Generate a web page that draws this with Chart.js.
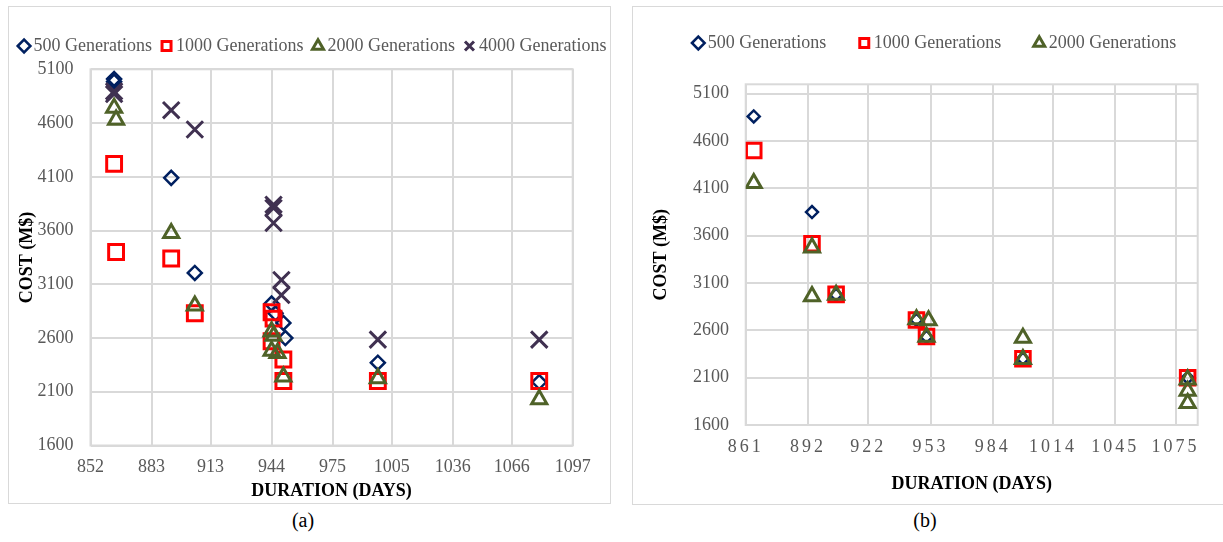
<!DOCTYPE html>
<html>
<head>
<meta charset="utf-8">
<script src="https://cdn.jsdelivr.net/npm/chart.js@4.4.1/dist/chart.umd.min.js"></script>
<style>
  body { margin: 0; background: #fff; width: 1223px; height: 542px; overflow: hidden; position: relative; font-family: "Liberation Serif", serif; }
  .panel { position: absolute; top: 6px; border: 1px solid #d9d9d9; overflow: hidden; background: #fff; }
  #panelA { left: 8px; width: 601px; height: 496px; }
  #panelB { left: 632px; width: 592px; height: 497px; }
  #panelA canvas { position: absolute; left: 0; top: 0; }
  #panelB canvas { position: absolute; left: 0; top: -12px; }
  .caption { position: absolute; top: 509px; width: 60px; font-size: 20px; color: #000; text-align: center; }
</style>
</head>
<body>
<div class="panel" id="panelA"><canvas id="chartA" width="612" height="496"></canvas></div>
<div class="panel" id="panelB"><canvas id="chartB" width="590" height="509"></canvas></div>
<div class="caption" style="left:273px">(a)</div>
<div class="caption" style="left:895px">(b)</div>
<script>
// chart (a): duration / cost for each number of generations
const durA500 = [864, 864, 893, 905, 944, 946, 950, 951, 998, 1080];
const costA500 = [5010, 4985, 4090, 3205, 2920, 2830, 2740, 2600, 2370, 2190];
const durA1000 = [864, 865, 893, 905, 944, 945, 944, 950, 950, 998, 1080];
const costA1000 = [4220, 3400, 3340, 2830, 2840, 2780, 2570, 2400, 2200, 2200, 2200];
const durA2000 = [864, 865, 893, 905, 944, 945, 944, 947, 950, 998, 1080];
const costA2000 = [4740, 4630, 3575, 2900, 2660, 2620, 2480, 2460, 2240, 2225, 2030];
const durA4000 = [864, 864, 893, 905, 945, 945, 945, 949, 949, 998, 1080];
const costA4000 = [4895, 4870, 4720, 4540, 3840, 3810, 3670, 3140, 3000, 2585, 2585];

// chart (b)
const durB500 = [865, 894, 906, 946, 951, 999, 1081];
const costB500 = [4860, 3850, 2975, 2710, 2530, 2300, 2100];
const durB1000 = [865, 894, 906, 946, 951, 999, 1081];
const costB1000 = [4500, 3515, 2980, 2710, 2535, 2300, 2100];
const durB2000 = [865, 894, 894, 906, 946, 952, 951, 999, 999, 1081, 1081, 1081];
const costB2000 = [4155, 3475, 2960, 2975, 2715, 2705, 2530, 2520, 2295, 2080, 1960, 1830];

const seriesNames = ['500 Generations', '1000 Generations', '2000 Generations', '4000 Generations'];

// axis ticks and limits
const xTicksA = [852, 883, 913, 944, 975, 1005, 1036, 1066, 1097];
const yTicksA = [1600, 2100, 2600, 3100, 3600, 4100, 4600, 5100];
const xTicksB = [861, 892, 922, 953, 984, 1014, 1045, 1075];
const yTicksB = [1600, 2100, 2600, 3100, 3600, 4100, 4600, 5100];
const xMaxB = 1086;
const yMaxB = 5200;

const FONT = 'Liberation Serif';
const GRID = '#d9d9d9';
const TICK = '#595959';
Chart.defaults.font.family = FONT;

const markers = [
  { style: 'rectRot', color: '#002060', width: 2.5 },
  { style: 'rect', color: '#ff0000', width: 3 },
  { style: 'triangle', color: '#4f6228', width: 3 },
  { style: 'crossRot', color: '#403151', width: 3 }
];

function makeDataset(i, xs, ys, radius) {
  const m = markers[i];
  return {
    label: seriesNames[i],
    data: xs.map((x, k) => ({ x: x, y: ys[k] })),
    pointStyle: m.style,
    pointRadius: radius,
    pointHoverRadius: radius,
    pointBorderWidth: m.width,
    pointBorderColor: m.color,
    pointBackgroundColor: 'rgba(0,0,0,0)',
    borderColor: m.color,
    backgroundColor: 'rgba(0,0,0,0)',
    showLine: false,
    order: 4 - i
  };
}

// grey frame round the plot area
const frame = {
  id: 'frame',
  beforeDatasetsDraw(chart) {
    const a = chart.chartArea;
    const ctx = chart.ctx;
    ctx.save();
    ctx.strokeStyle = GRID;
    ctx.lineWidth = 2;
    ctx.strokeRect(a.left, a.top, a.right - a.left, a.bottom - a.top);
    ctx.restore();
  }
};

// x labels of (b) are letter-spaced (they are drawn after the datasets, z = 1)
const spacedTicks = {
  id: 'spacedTicks',
  afterDatasetsDraw(chart) { chart.ctx.letterSpacing = '3px'; },
  afterDraw(chart) { chart.ctx.letterSpacing = '0px'; }
};

function legendOpts(pad) {
  return {
    position: 'top',
    weight: 3000,
    labels: {
      usePointStyle: true,
      boxWidth: 1,
      boxHeight: 9,
      padding: pad,
      color: TICK,
      font: { family: FONT, size: 18 },
      sort: (a, b) => a.datasetIndex - b.datasetIndex
    }
  };
}

// empty title used as the gap between legend and plot
function gapOpts(h) {
  return { display: true, text: '', font: { size: 1, lineHeight: 1 }, padding: { top: 0, bottom: h - 1 } };
}

function axisOpts(cfg) {
  return {
    type: 'linear',
    min: cfg.min,
    max: cfg.max,
    bounds: 'data',
    afterBuildTicks: ax => { ax.ticks = cfg.ticks.map(v => ({ value: v })); },
    afterFit: cfg.fit,
    grid: { color: GRID, lineWidth: 2, drawTicks: false },
    border: { display: false },
    ticks: {
      color: TICK,
      font: { family: FONT, size: 18 },
      padding: cfg.tickPad,
      maxRotation: 0,
      autoSkip: false,
      z: cfg.z || 0,
      callback: v => String(v)
    },
    title: {
      display: true,
      text: cfg.title,
      color: '#000',
      font: { family: FONT, size: 18, weight: 'bold' },
      padding: cfg.titlePad
    }
  };
}

new Chart(document.getElementById('chartA'), {
  type: 'scatter',
  data: {
    datasets: [
      makeDataset(0, durA500, costA500, 7),
      makeDataset(1, durA1000, costA1000, 10.5),
      makeDataset(2, durA2000, costA2000, 8.7),
      makeDataset(3, durA4000, costA4000, 11.6)
    ]
  },
  options: {
    responsive: false,
    animation: false,
    devicePixelRatio: 1,
    layout: { padding: { top: 16 } },
    plugins: { legend: legendOpts(14), title: gapOpts(4.3), tooltip: { enabled: false } },
    scales: {
      x: axisOpts({
        min: 852, max: 1097, ticks: xTicksA, tickPad: 10.7,
        title: 'DURATION (DAYS)', titlePad: { top: 0, bottom: 1.2 },
        fit: ax => { ax.height = 57.5; ax.paddingRight = 48.3; }
      }),
      y: axisOpts({
        min: 1600, max: 5100, ticks: yTicksA, tickPad: 17,
        title: 'COST (M$)', titlePad: { top: 8, bottom: 0 },
        fit: ax => { ax.width = 81.5; }
      })
    }
  },
  plugins: [frame]
});

new Chart(document.getElementById('chartB'), {
  type: 'scatter',
  data: {
    datasets: [
      makeDataset(0, durB500, costB500, 6),
      makeDataset(1, durB1000, costB1000, 10.3),
      makeDataset(2, durB2000, costB2000, 8.7)
    ]
  },
  options: {
    responsive: false,
    animation: false,
    devicePixelRatio: 1,
    layout: { padding: { top: 1.5, left: 18 } },
    plugins: { legend: legendOpts(37.5), title: gapOpts(22.3), tooltip: { enabled: false } },
    scales: {
      x: axisOpts({
        min: 861, max: xMaxB, ticks: xTicksB, tickPad: 11.2, z: 1,
        title: 'DURATION (DAYS)', titlePad: { top: 0, bottom: 9.2 },
        fit: ax => { ax.height = 79; ax.paddingRight = 25.3; }
      }),
      y: axisOpts({
        min: 1600, max: yMaxB, ticks: yTicksB, tickPad: 16.7,
        title: 'COST (M$)', titlePad: { top: 0, bottom: 0 },
        fit: ax => { ax.width = 94.7; }
      })
    }
  },
  plugins: [frame, spacedTicks]
});
</script>
</body>
</html>
